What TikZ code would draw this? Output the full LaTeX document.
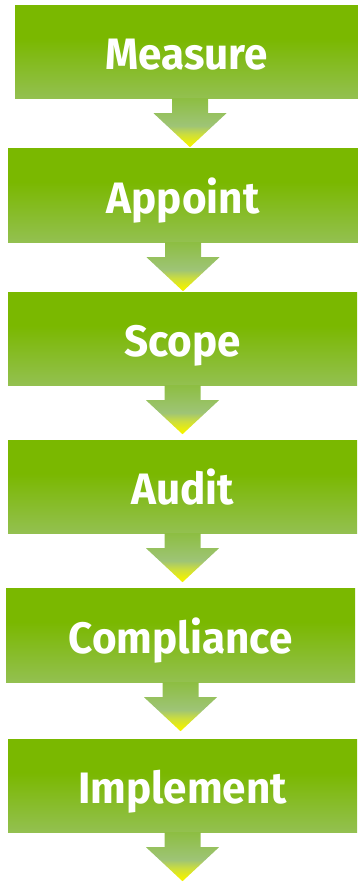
\documentclass[tikz,border=0pt]{standalone}
\usepackage{fontspec}
\setmainfont{Fira Sans}
\newfontfamily\stepfont[FakeStretch=0.96]{Fira Sans}
\usepackage{tikz}
\usetikzlibrary{calc}

\definecolor{boxtop}{RGB}{122,184,0}
\definecolor{boxbot}{RGB}{147,192,80}
\definecolor{arrtop}{RGB}{141,190,66}
\definecolor{arrmid}{RGB}{158,196,118}
\definecolor{arrlime}{RGB}{205,222,60}
\definecolor{arryel}{RGB}{242,242,0}

\pgfdeclareverticalshading{boxshade}{100bp}{color(0bp)=(boxbot); color(25bp)=(boxbot); color(57bp)=(boxtop); color(100bp)=(boxtop)}
\pgfdeclareverticalshading{arrowshade}{100bp}{color(0bp)=(arryel); color(28bp)=(arryel); color(38bp)=(arrlime); color(47bp)=(arrmid); color(75bp)=(arrtop); color(100bp)=(arrtop)}

\tikzset{
	stepbox/.style={shade, shading=boxshade, minimum width=349pt, minimum height=93pt,
		inner sep=0pt, text height=36pt, text depth=0pt, text=white,
		font=\stepfont\bfseries\fontsize{44}{44}\selectfont},
}

% block arrow from the bottom of #2 towards #3
\newcommand{\flowarrow}[3][0]{%
	\coordinate (stem) at ($(#2.south)+(#1,0)$);
	\coordinate (tip) at ($(stem)!49pt!(stem |- #3)$);
	\shade[shading=arrowshade] ($(stem)+(-18,0)$) -- ($(stem)+(18,0)$) -- ($(stem)+(18,15)$)
		-- ($(stem)+(36.5,15)$) -- (tip) -- ($(stem)+(-36.5,15)$) -- ($(stem)+(-18,15)$) -- cycle;
}

\begin{document}
\begin{tikzpicture}[x=1pt, y=-1pt]
	\useasboundingbox (0,0) rectangle (358,884);
	
	\node[stepbox, minimum width=343pt] (measure) at (186.5,51.5) {Measure};
	\node[stepbox, minimum width=350pt, minimum height=94pt] (appoint) at (183,195) {Appoint};
	\node[stepbox] (scope) at (182.5,338.5) {Scope};
	\node[stepbox] (audit) at (182.5,486.5) {Audit};
	\node[stepbox, minimum height=94pt] (compliance) at (180.5,635) {Compliance};
	\node[stepbox] (implement) at (182.5,785.5) {Implement};
	\coordinate (bottom) at (182.5,884);
	
	\flowarrow[3.5]{measure}{appoint.north}
	\flowarrow{appoint}{scope.north}
	\flowarrow{scope}{audit.north}
	\flowarrow{audit}{compliance.north}
	\flowarrow{compliance}{implement.north}
	\flowarrow{implement}{bottom}
\end{tikzpicture}
\end{document}
